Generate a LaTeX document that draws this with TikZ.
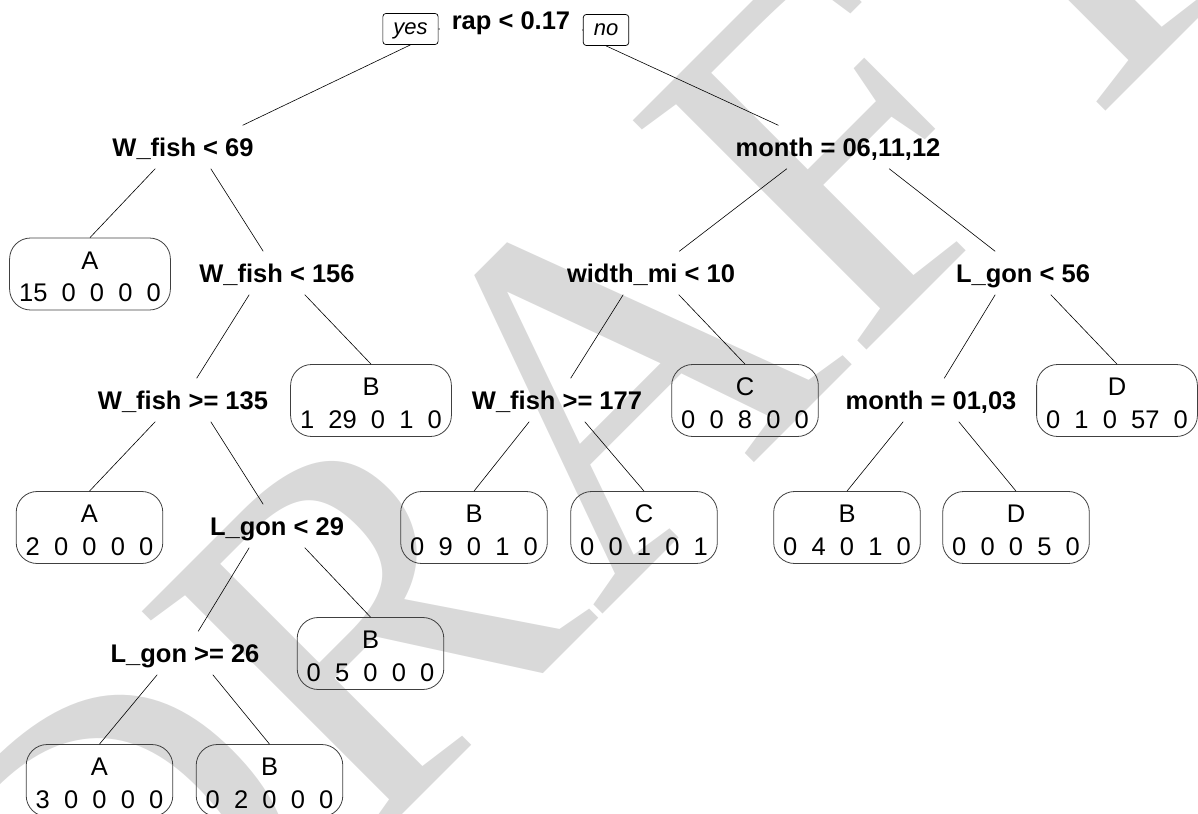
\documentclass[tikz,border=0pt]{standalone}
\usepackage{fontspec}
\setmainfont{Liberation Sans}
\newfontfamily\wmfont{Liberation Serif}
\newcommand{\lst}{\rule[-4.5pt]{0pt}{31.5pt}}
\newcommand{\cnt}[5]{#1\hphantom{0}#2\hphantom{0}#3\hphantom{0}#4\hphantom{0}#5}
\newcommand{\leaftext}[2]{\lst#1\\\lst#2}

\begin{document}
\begin{tikzpicture}[x=1pt,y=-1pt,
    split/.style={font=\bfseries\fontsize{25.5}{30}\selectfont, text height=18.3pt, text depth=0pt, minimum height=43pt, inner xsep=4pt},
    leaf/.style={draw=black!75, line width=0.8pt, rounded corners=21pt, align=center, font=\fontsize{25.5}{30.5}\selectfont, inner xsep=9.5pt, inner ysep=3pt, minimum height=72pt},
    tag/.style={draw, line width=0.7pt, rounded corners=3pt, font=\itshape\fontsize{22}{26}\selectfont, text height=16pt, text depth=4.6pt, minimum height=31pt, inner xsep=10.5pt},
    branch/.style={line width=0.6pt}]
            \useasboundingbox (0,0) rectangle (1198,813);
            \clip (0,0) rectangle (1198,813);
            \node[rotate=45, anchor=base, inner sep=0pt, text=black!15, font=\wmfont\fontsize{500}{500}\selectfont] (wm) at (688,529) {DRAFT};

            \node[tag] (yes) at (410.5,29) {yes};
            \node[tag] (no) at (606,30) {no};
            \draw[branch] (yes.east) -- (no.west);
            \node[split, fill=white, inner xsep=11.5pt] (rap) at (511,20) {rap < 0.17};

            \node[split] (wf69) at (183,147) {W\_fish < 69};
            \node[split] (mon1) at (838,147) {month = 06,11,12};
            \node[split] (wf156) at (277,273) {W\_fish < 156};
            \node[split] (wmi) at (651,273) {width\_mi < 10};
            \node[split] (lg56) at (1023,273) {L\_gon < 56};
            \node[split] (wf135) at (183,400) {W\_fish >= 135};
            \node[split] (wf177) at (557,400) {W\_fish >= 177};
            \node[split] (mon2) at (931,400) {month = 01,03};
            \node[split] (lg29) at (277,526) {L\_gon < 29};
            \node[split] (lg26) at (185,653) {L\_gon >= 26};

            \node[leaf] (lA1) at (90,274) {\leaftext{A}{\cnt{15}{0}{0}{0}{0}}};
            \node[leaf] (lB1) at (371,400.5) {\leaftext{B}{\cnt{1}{29}{0}{1}{0}}};
            \node[leaf] (lC1) at (745,400.5) {\leaftext{C}{\cnt{0}{0}{8}{0}{0}}};
            \node[leaf] (lD1) at (1117,400.5) {\leaftext{D}{\cnt{0}{1}{0}{57}{0}}};
            \node[leaf] (lA2) at (89.5,527.5) {\leaftext{A}{\cnt{2}{0}{0}{0}{0}}};
            \node[leaf] (lB2) at (474,527.5) {\leaftext{B}{\cnt{0}{9}{0}{1}{0}}};
            \node[leaf] (lC2) at (644,527.5) {\leaftext{C}{\cnt{0}{0}{1}{0}{1}}};
            \node[leaf] (lB3) at (847,527.5) {\leaftext{B}{\cnt{0}{4}{0}{1}{0}}};
            \node[leaf] (lD2) at (1016,527.5) {\leaftext{D}{\cnt{0}{0}{0}{5}{0}}};
            \node[leaf] (lB4) at (370.5,653.5) {\leaftext{B}{\cnt{0}{5}{0}{0}{0}}};
            \node[leaf] (lA3) at (99.5,780.5) {\leaftext{A}{\cnt{3}{0}{0}{0}{0}}};
            \node[leaf] (lB5) at (269.5,780.5) {\leaftext{B}{\cnt{0}{2}{0}{0}{0}}};

            \draw[branch] (yes.south) -- (wf69.20);
            \draw[branch] (no.south) -- (mon1.160);
            \foreach \p/\a/\c in {wf69/-38/wf156, wf156/-142/wf135, wf135/-38/lg29, lg29/-142/lg26,
                                  mon1/-157/wmi, mon1/-23/lg56, wmi/-142/wf177, lg56/-142/mon2}{
                \draw[branch] (\p.\a) -- (\c);
            }
            \foreach \p/\a/\c in {wf69/-142/lA1, wf156/-38/lB1, wf135/-142/lA2, lg29/-38/lB4,
                                  lg26/-142/lA3, lg26/-38/lB5, wmi/-38/lC1, wf177/-142/lB2,
                                  wf177/-38/lC2, lg56/-38/lD1, mon2/-142/lB3, mon2/-38/lD2}{
                \draw[branch] (\p.\a) -- (\c.north);
            }
        \end{tikzpicture}
\end{document}
